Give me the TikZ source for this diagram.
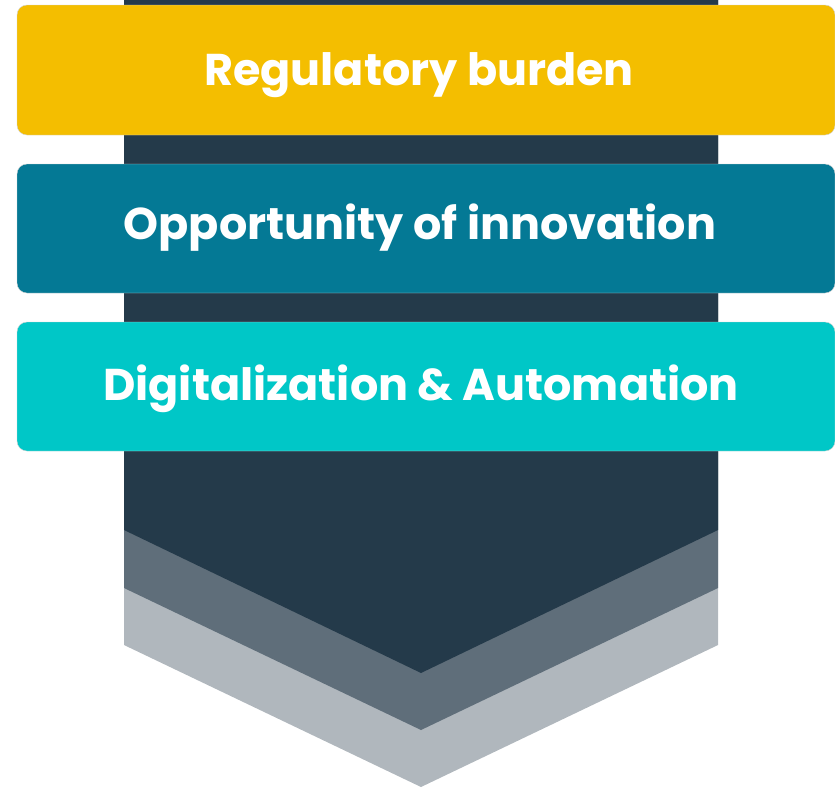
\documentclass[tikz,border=0pt]{standalone}
\usepackage{fontspec}
\setmainfont{Poppins}
\definecolor{bar_yell}{RGB}{244,190,0}
\definecolor{bar_teal}{RGB}{4,121,149}
\definecolor{bar_cyan}{RGB}{0,199,199}
\definecolor{arrow_dark}{RGB}{36,58,74}
\definecolor{arrow_mid}{RGB}{95,110,122}
\definecolor{arrow_light}{RGB}{176,183,189}
\begin{document}
\begin{tikzpicture}[x=1pt,y=-1pt]
    \tikzstyle{band}=[draw=none]
    \tikzstyle{bar}=[draw=black!18,line width=0.4pt,rounded corners=10pt]
    \tikzstyle{barlabel}=[text=white,anchor=base,inner sep=0pt,font=\fontsize{44.5}{50}\selectfont\bfseries]

    \useasboundingbox (0,0) rectangle (835,790);

    % chevron, back to front
    \fill[band,arrow_light] (124,0) -- (718,0) -- (718,645) -- (421,787) -- (124,645) -- cycle;
    \fill[band,arrow_mid]   (124,0) -- (718,0) -- (718,588) -- (421,730) -- (124,588) -- cycle;
    \fill[band,arrow_dark]  (124,0) -- (718,0) -- (718,530) -- (421,673) -- (124,530) -- cycle;

    % bars
    \draw[bar,fill=bar_yell] (17,5)   rectangle (835,135);
    \draw[bar,fill=bar_teal] (17,164) rectangle (835,293);
    \draw[bar,fill=bar_cyan] (17,322) rectangle (835,451);

    \node[barlabel] (reg) at (419,85)  {Regulatory burden};
    \node[barlabel] (opp) at (420,239) {Opportunity of innovation};
    \node[barlabel] (dig) at (421,400) {Digitalization \& Automation};
\end{tikzpicture}
\end{document}
